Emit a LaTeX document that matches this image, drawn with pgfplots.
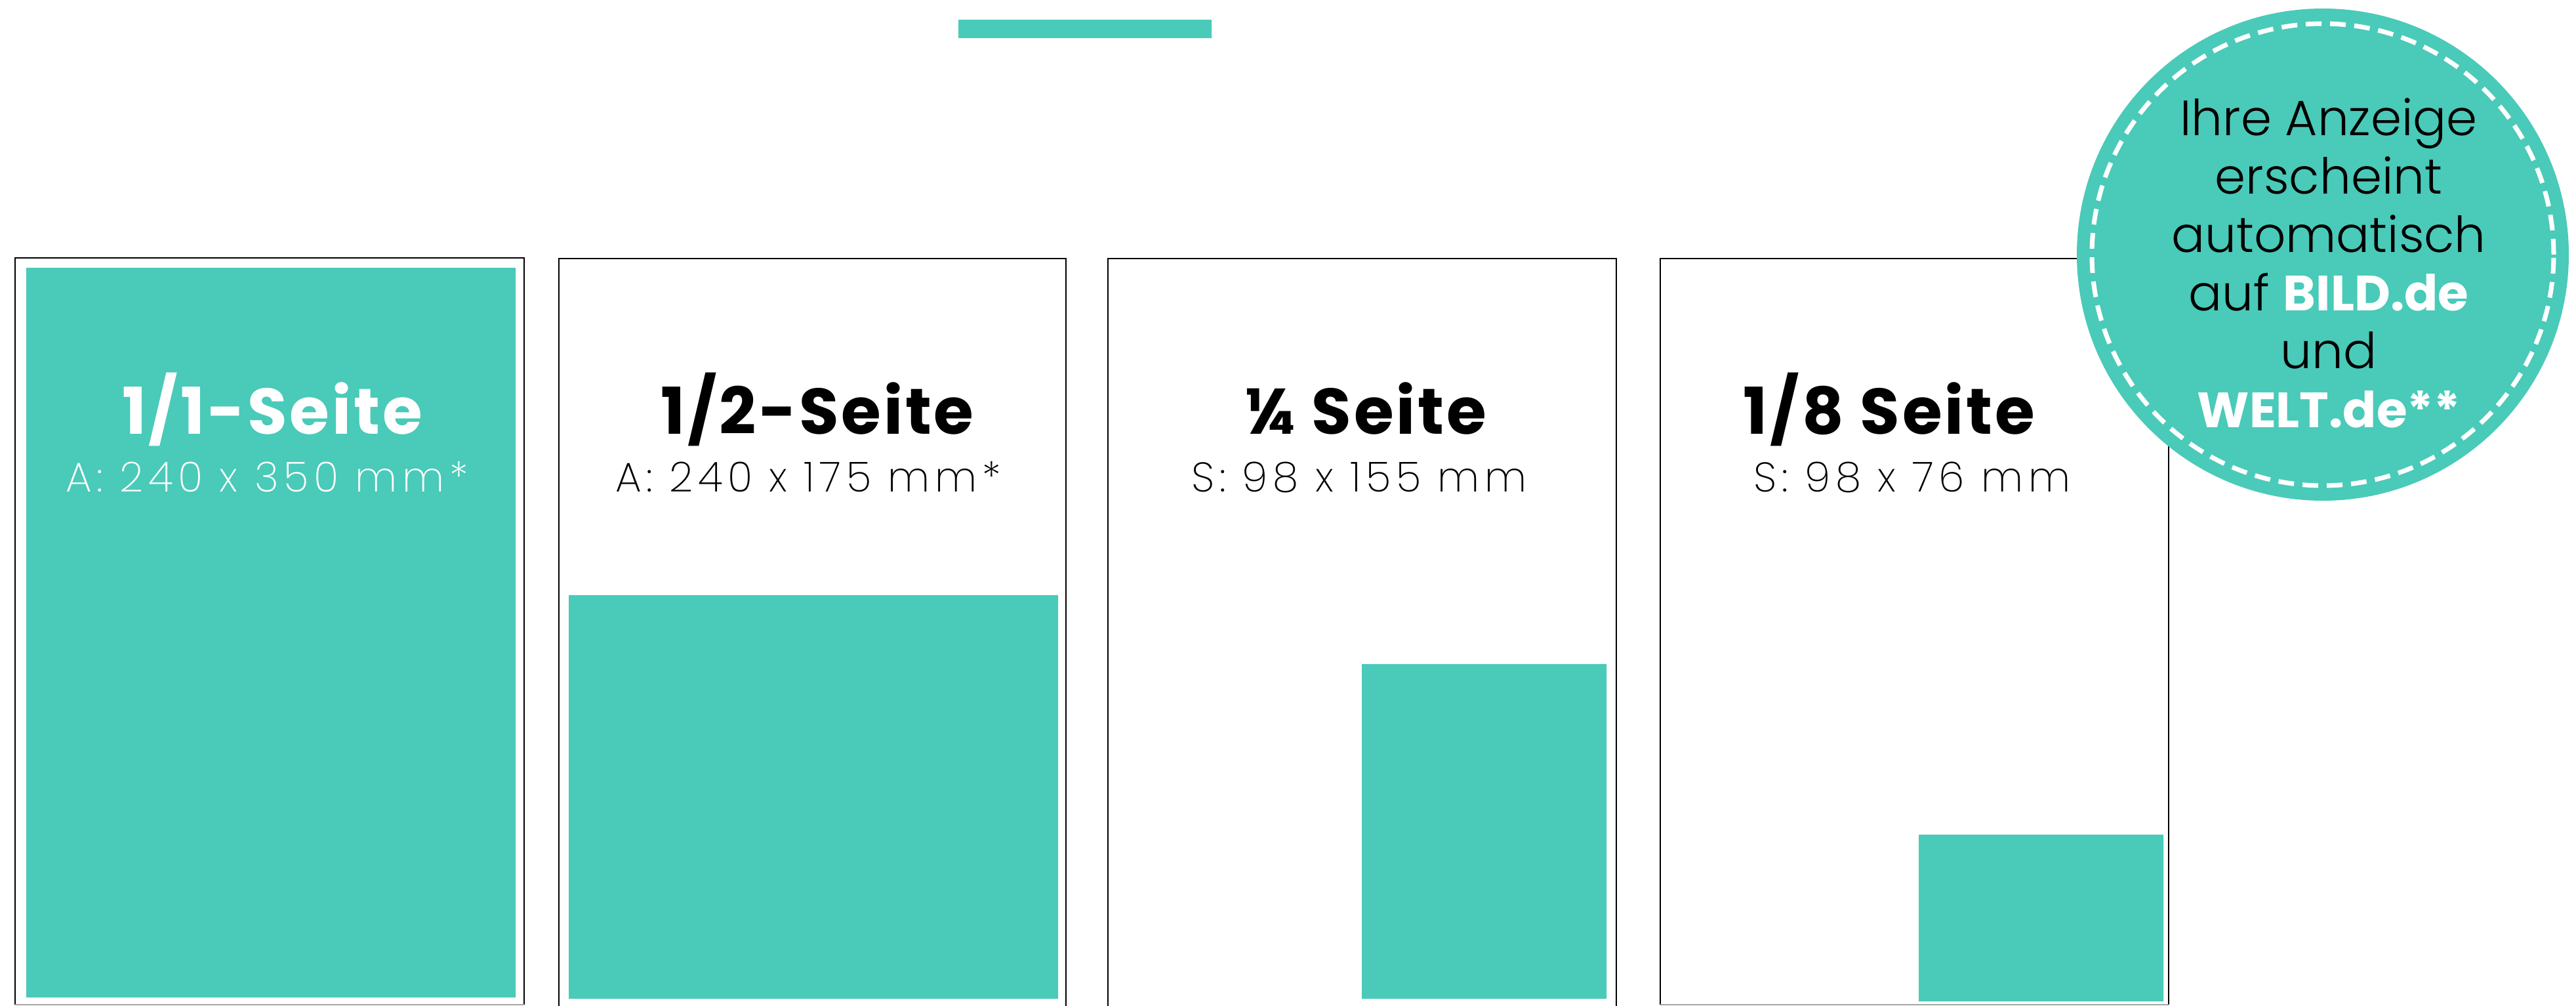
\documentclass[border=0pt]{standalone}
\usepackage{pgfplots}
\pgfplotsset{compat=1.18}
\usepackage{fontspec}
\setmainfont{Poppins}
\newfontfamily\popl{Poppins Light}
\newfontfamily\popxl{Poppins ExtraLight}
\newfontfamily\popb{Poppins Bold}
\definecolor{tealc}{HTML}{4ACAB9}
\begin{document}
\begin{tikzpicture}
\begin{axis}[hide axis, scale only axis, width=39.27cm, height=15.33cm,
  xmin=0, xmax=3927, ymin=0, ymax=1533, y dir=reverse, clip=false]
% top bar
\addplot[fill=tealc, draw=none] coordinates {(1461,30) (1847,30) (1847,58) (1461,58) (1461,30)};
% page frames
\addplot[draw=black, line width=0.6pt] coordinates {(23,1531) (23,393) (799,393) (799,1531)};
\addplot[draw=black!35, line width=0.6pt] coordinates {(23,1531) (799,1531)};
\addplot[draw=black, line width=0.6pt] coordinates {(852,1533) (852,394) (1625,394) (1625,1533)};
\addplot[draw=black, line width=0.6pt] coordinates {(1689,1533) (1689,394) (2464,394) (2464,1533)};
\addplot[draw=black, line width=0.6pt] coordinates {(2531,1531) (2531,394) (3306,394) (3306,1531)};
\addplot[draw=black!35, line width=0.6pt] coordinates {(2531,1531) (3306,1531)};
% ad areas
\addplot[fill=tealc, draw=none] coordinates {(40,408) (786,408) (786,1520) (40,1520) (40,408)};
\addplot[fill=tealc, draw=none] coordinates {(867,907) (1613,907) (1613,1522) (867,1522) (867,907)};
\addplot[fill=tealc, draw=none] coordinates {(2076,1012) (2449,1012) (2449,1522) (2076,1522) (2076,1012)};
\addplot[fill=tealc, draw=none] coordinates {(2925,1272) (3298,1272) (3298,1526) (2925,1526) (2925,1272)};
% labels
\node[anchor=base, text=white, font=\popb\fontsize{28}{30}\selectfont\addfontfeature{LetterSpace=4}] at (axis cs:415,662) {1/1-Seite};
\node[anchor=base, text=white, font=\popxl\fontsize{18}{20}\selectfont\addfontfeature{LetterSpace=12}] at (axis cs:407,749) {A: 240 x 350 mm*};
\node[anchor=base, text=black, font=\popb\fontsize{28}{30}\selectfont\addfontfeature{LetterSpace=4}] at (axis cs:1246,662) {1/2-Seite};
\node[anchor=base, text=black, font=\popxl\fontsize{18}{20}\selectfont\addfontfeature{LetterSpace=12}] at (axis cs:1232,749) {A: 240 x 175 mm*};
\node[anchor=base, text=black, font=\popb\fontsize{28}{30}\selectfont\addfontfeature{LetterSpace=4}] at (axis cs:2082,662) {¼ Seite};
\node[anchor=base, text=black, font=\popxl\fontsize{18}{20}\selectfont\addfontfeature{LetterSpace=12}] at (axis cs:2072,749) {S: 98 x 155 mm};
\node[anchor=base, text=black, font=\popb\fontsize{28}{30}\selectfont\addfontfeature{LetterSpace=4}] at (axis cs:2880,662) {1/8 Seite};
\node[anchor=base, text=black, font=\popxl\fontsize{18}{20}\selectfont\addfontfeature{LetterSpace=12}] at (axis cs:2915,749) {S: 98 x 76 mm};
% badge
\fill[tealc] (axis cs:3541,388) circle[radius=3.75cm];
\draw[white, line width=2pt, dash pattern=on 0.24cm off 0.13cm] (axis cs:3541,388) circle[radius=3.52cm];
\node[anchor=base, font=\popl\fontsize{21.5}{23}\selectfont] at (axis cs:3550,206) {Ihre Anzeige};
\node[anchor=base, font=\popl\fontsize{21.5}{23}\selectfont] at (axis cs:3550,295) {erscheint};
\node[anchor=base, font=\popl\fontsize{21.5}{23}\selectfont] at (axis cs:3550,384) {automatisch};
\node[anchor=base, font=\popl\fontsize{21.5}{23}\selectfont] at (axis cs:3550,473) {auf {\popb\color{white}BILD.de}};
\node[anchor=base, font=\popl\fontsize{21.5}{23}\selectfont] at (axis cs:3550,562) {und};
\node[anchor=base, text=white, font=\popb\fontsize{21.5}{23}\selectfont] at (axis cs:3550,651) {WELT.de**};
\end{axis}
\pgfresetboundingbox
\useasboundingbox (current axis.south west) rectangle (current axis.north east);
\end{tikzpicture}
\end{document}
